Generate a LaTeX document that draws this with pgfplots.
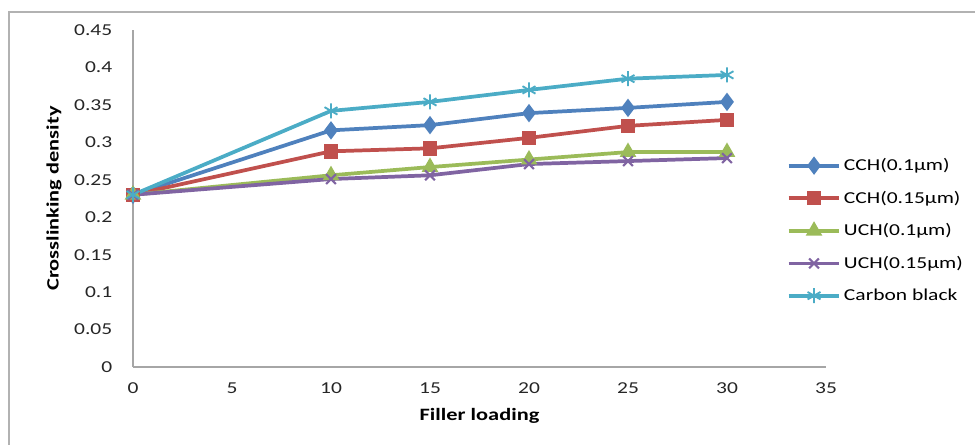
\documentclass[border=0pt]{standalone}
\usepackage{pgfplots}
\pgfplotsset{compat=1.18}
\usepackage{fontspec}
\setmainfont{Carlito}[FakeStretch=1.29]

\definecolor{exblue}{HTML}{4F81BD}
\definecolor{exred}{HTML}{C0504D}
\definecolor{exgreen}{HTML}{9BBB59}
\definecolor{expurple}{HTML}{8064A2}
\definecolor{excyan}{HTML}{4BACC6}

\begin{document}
\begin{tikzpicture}
\useasboundingbox (0,0) rectangle (731.25pt,333pt);
\draw[gray!60, line width=0.8pt] (6.75pt,-10pt) rectangle (745pt,324pt);
\begin{axis}[
    at={(99.75pt,57.75pt)}, anchor=south west,
    scale only axis,
    width=519.75pt, height=252.75pt,
    xmin=0, xmax=35, ymin=0, ymax=0.45,
    xtick={0,5,...,35},
    ytick={0,0.05,...,0.45},
    axis x line=bottom, axis y line=left,
    axis line style={-, gray!70, line width=1.1pt},
    major tick length=0pt,
    tick label style={font=\fontsize{12.5}{14}\selectfont, text=black!85},
    /pgf/number format/assume math mode=true,
    yticklabel style={/pgf/number format/fixed, /pgf/number format/precision=2, xshift=-12pt},
    xticklabel style={yshift=-8pt},
    xlabel={Filler loading},
    ylabel={Crosslinking density},
    label style={font=\bfseries\fontsize{13}{15}\selectfont},
    xlabel style={at={(axis description cs:0.5,-0.145)}, anchor=center},
    ylabel style={at={(axis description cs:-0.1140,0.5)}, anchor=center},
    clip=false,
    legend style={
        at={(0.943,0.405)}, anchor=west,
        draw=none, fill=none,
        font=\fontsize{12.5}{14}\selectfont,
        row sep=9.8pt,
        inner xsep=0pt,
        legend cell align=left,
        /tikz/every even column/.append style={column sep=1pt},
    },
    legend image code/.code={
        \draw[mark repeat=2, mark phase=2] plot coordinates {(0cm,0cm) (0.67cm,0cm) (1.34cm,0cm)};
    },
    every axis plot/.append style={line width=2.8pt},
]
\addplot[color=exblue, mark=diamond*, mark size=4.6pt] coordinates {
    (0,0.23) (10,0.316) (15,0.323) (20,0.339) (25,0.346) (30,0.354)
};
\addlegendentry{CCH(0.1µm)}
\addplot[color=exred, mark=square*, mark size=4pt] coordinates {
    (0,0.23) (10,0.288) (15,0.292) (20,0.306) (25,0.322) (30,0.330)
};
\addlegendentry{CCH(0.15µm)}
\addplot[color=exgreen, mark=triangle*, mark size=4.4pt] coordinates {
    (0,0.23) (10,0.256) (15,0.267) (20,0.277) (25,0.287) (30,0.287)
};
\addlegendentry{UCH(0.1µm)}
\addplot[color=expurple, mark=x, mark size=5.2pt, mark options={line width=1.6pt}] coordinates {
    (0,0.23) (10,0.251) (15,0.256) (20,0.271) (25,0.275) (30,0.279)
};
\addlegendentry{UCH(0.15µm)}
\addplot[color=excyan, mark=asterisk, mark size=5.6pt, mark options={line width=1.4pt}] coordinates {
    (0,0.23) (10,0.342) (15,0.354) (20,0.370) (25,0.385) (30,0.390)
};
\addlegendentry{Carbon black}
\end{axis}
\end{tikzpicture}
\end{document}
